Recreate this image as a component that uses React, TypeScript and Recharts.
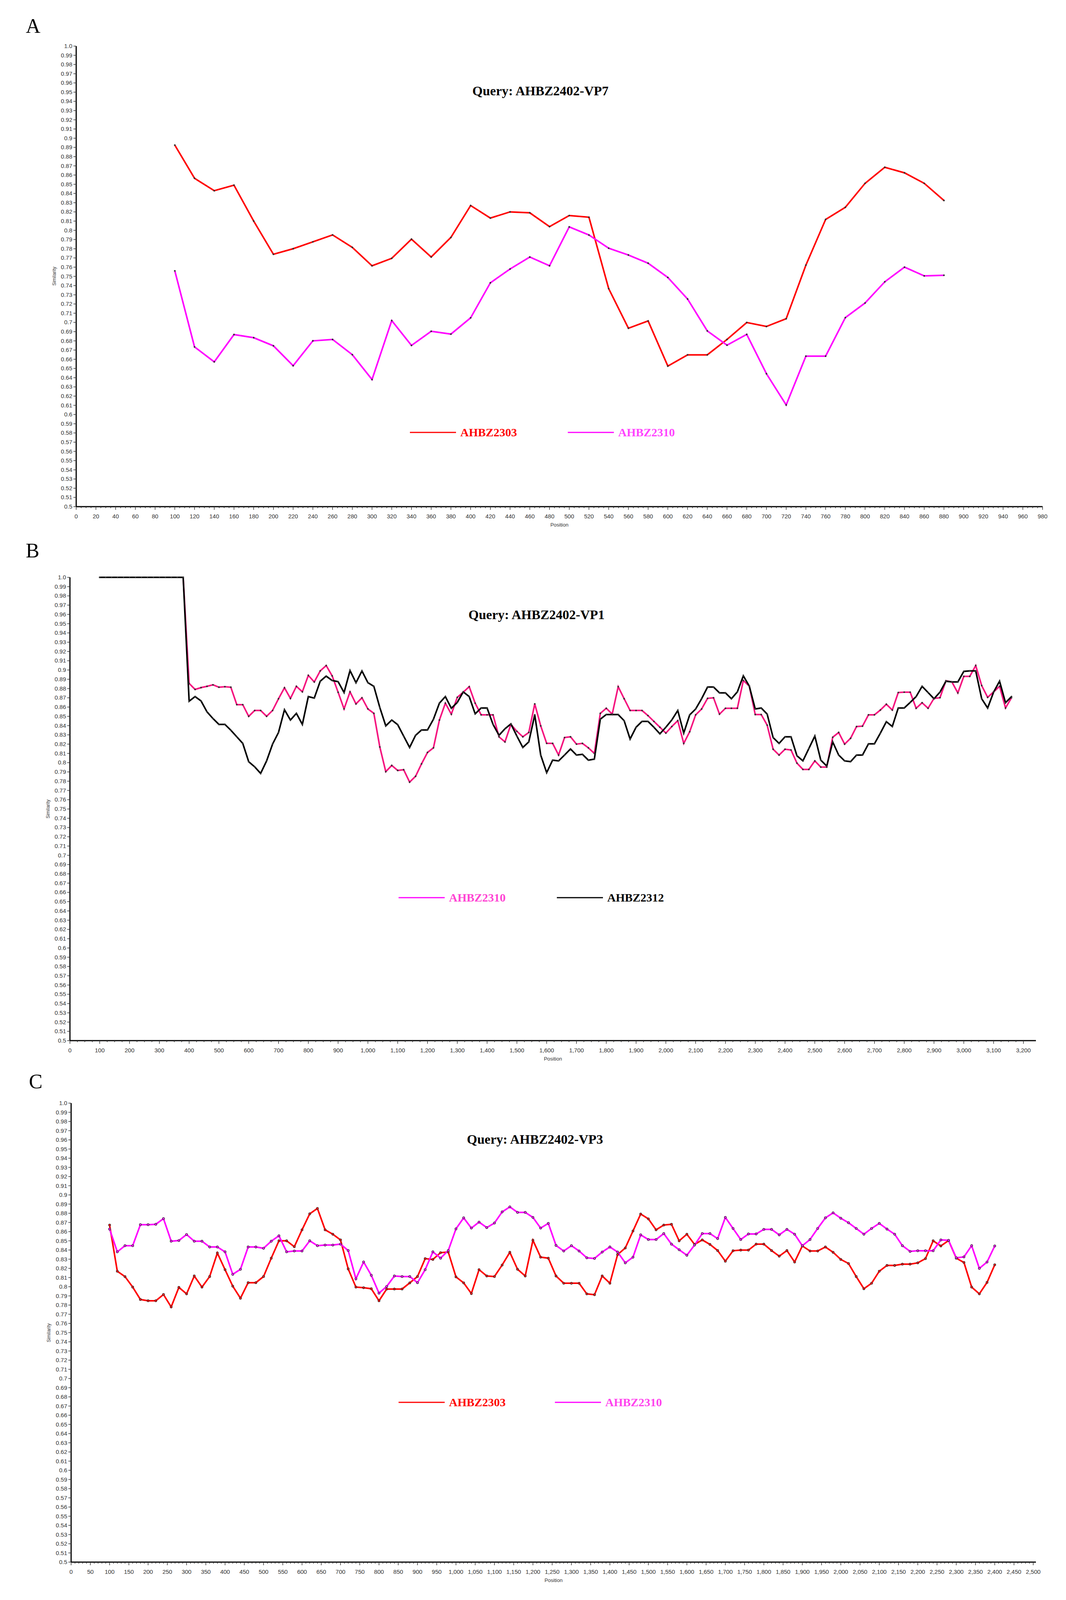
import React from "react";
import { LineChart, Line, XAxis, YAxis } from "recharts";

// sampling grid helper (window step of the similarity scan)
const range = (start: number, end: number, step: number) => {
  const out: number[] = [];
  for (let v = start; v <= end + 1e-9; v += step) out.push(v);
  return out;
};

// ---------- A: Query AHBZ2402-VP7 ----------
const vp7Positions = range(100, 880, 20);
const vp7Ahbz2303 = [
  0.8925, 0.8565, 0.843, 0.849, 0.81, 0.774, 0.78, 0.7875, 0.795, 0.7815,
  0.7615, 0.7696, 0.7904, 0.771, 0.7923, 0.8269, 0.8133, 0.82, 0.819, 0.804,
  0.816, 0.8142, 0.7367, 0.6937, 0.7016, 0.6526, 0.6648, 0.6648, 0.6815, 0.6999,
  0.6956, 0.704, 0.7622, 0.8118, 0.825, 0.851, 0.8684, 0.8624, 0.851, 0.8324,
];
const vp7Ahbz2310 = [
  0.756, 0.6734, 0.6572, 0.6868, 0.6834, 0.6746, 0.653, 0.68, 0.6815, 0.665,
  0.638, 0.702, 0.675, 0.6904, 0.6873, 0.705, 0.743, 0.758, 0.771, 0.7615,
  0.8037, 0.7949, 0.7806, 0.7732, 0.7643, 0.7488, 0.7254, 0.6908, 0.6753, 0.687,
  0.6443, 0.6104, 0.6634, 0.6634, 0.7052, 0.7211, 0.7441, 0.76, 0.7505, 0.7512,
];

// ---------- B: Query AHBZ2402-VP1 ----------
const vp1Positions = range(100, 3160, 20);
const vp1Ahbz2310 = [
  1, 1, 1, 1, 1, 1, 1, 1, 1, 1, 1, 1, 1, 1, 1,
  0.8855, 0.879, 0.881, 0.8824, 0.884, 0.8814, 0.882, 0.8814, 0.8626, 0.8626,
  0.85, 0.8563, 0.8563, 0.85, 0.8563, 0.869, 0.8808, 0.8693, 0.8824, 0.8765,
  0.8942, 0.8871, 0.899, 0.9048, 0.8937, 0.876, 0.858, 0.8764, 0.8634, 0.87,
  0.858, 0.8532, 0.8169, 0.7903, 0.797, 0.7916, 0.7924, 0.779, 0.7853, 0.7987,
  0.811, 0.816, 0.846, 0.8642, 0.8523, 0.8705, 0.876, 0.882, 0.8642, 0.8516,
  0.8516, 0.8516, 0.8279, 0.8224, 0.8413, 0.8338, 0.8279, 0.8326, 0.8634, 0.8397,
  0.8208, 0.8208, 0.8082, 0.8271, 0.8279, 0.82, 0.8208, 0.816, 0.81, 0.8532,
  0.8587, 0.8524, 0.882, 0.869, 0.8563, 0.8563, 0.8563, 0.8508, 0.8445, 0.8382,
  0.8319, 0.839, 0.8453, 0.8208, 0.8334, 0.8516, 0.8579, 0.8694, 0.87, 0.8524,
  0.8587, 0.8587, 0.8587, 0.8887, 0.8827, 0.8519, 0.8519, 0.8405, 0.8145, 0.8082,
  0.8145, 0.8137, 0.7995, 0.7927, 0.7927, 0.8019, 0.7952, 0.7952, 0.8274, 0.8326,
  0.82, 0.8263, 0.839, 0.8394, 0.8516, 0.8516, 0.8568, 0.8631, 0.8568, 0.8757,
  0.8761, 0.8761, 0.8587, 0.8647, 0.8587, 0.8694, 0.8701, 0.8884, 0.8871, 0.8753,
  0.8931, 0.8931, 0.9048, 0.8832, 0.8705, 0.8764, 0.8824, 0.859, 0.8701,
];
const vp1Ahbz2312 = [
  1, 1, 1, 1, 1, 1, 1, 1, 1, 1, 1, 1, 1, 1, 1,
  0.8663, 0.8713, 0.8666, 0.8548, 0.8476, 0.8413, 0.8413, 0.835, 0.8279, 0.8208,
  0.801, 0.7955, 0.7884, 0.8019, 0.82, 0.8326, 0.8571, 0.846, 0.8532, 0.8413,
  0.8713, 0.8697, 0.8879, 0.8934, 0.8887, 0.8874, 0.8757, 0.8994, 0.8863, 0.899,
  0.8863, 0.8824, 0.8595, 0.8397, 0.846, 0.841, 0.8287, 0.8164, 0.8295, 0.8353,
  0.8353, 0.8469, 0.8642, 0.8713, 0.8587, 0.865, 0.8764, 0.8713, 0.8527, 0.859,
  0.859, 0.8413, 0.8295, 0.8366, 0.8418, 0.8287, 0.8164, 0.8224, 0.8516, 0.8082,
  0.7892, 0.8027, 0.8019, 0.8082, 0.8148, 0.8082, 0.809, 0.8027, 0.8038, 0.8469,
  0.8519, 0.8519, 0.8519, 0.8453, 0.8255, 0.8382, 0.8445, 0.8445, 0.8382, 0.8311,
  0.8382, 0.8461, 0.8563, 0.8319, 0.8516, 0.8579, 0.869, 0.8816, 0.8816, 0.8753,
  0.8753, 0.869, 0.8764, 0.8937, 0.8827, 0.8579, 0.859, 0.8524, 0.8271, 0.8208,
  0.8279, 0.8279, 0.8074, 0.8019, 0.8153, 0.8287, 0.8027, 0.7963, 0.8224, 0.8082,
  0.8019, 0.8011, 0.8082, 0.8082, 0.8203, 0.8203, 0.8319, 0.8442, 0.839, 0.859,
  0.859, 0.865, 0.8713, 0.8824, 0.8757, 0.869, 0.8761, 0.8879, 0.8871, 0.8871,
  0.8985, 0.899, 0.899, 0.869, 0.859, 0.8761, 0.8879, 0.8647, 0.8713,
];

// ---------- C: Query AHBZ2402-VP3 ----------
const vp3Positions = range(100, 2400, 20);
const vp3Ahbz2303 = [
  0.8672, 0.8169, 0.811, 0.7996, 0.7861, 0.7847, 0.7847, 0.7915, 0.778, 0.7993,
  0.7922, 0.8117, 0.7996, 0.8111, 0.8367, 0.8186, 0.8006, 0.7875, 0.8044, 0.8044,
  0.8111, 0.8311, 0.85, 0.85, 0.8436, 0.862, 0.8794, 0.8853, 0.862, 0.8572,
  0.851, 0.8194, 0.7996, 0.7989, 0.7978, 0.7847, 0.7975, 0.7975, 0.7975, 0.8042,
  0.8111, 0.8306, 0.8297, 0.8371, 0.8378, 0.8107, 0.8042, 0.7926, 0.8186, 0.8117,
  0.8111, 0.8236, 0.8375, 0.819, 0.8117, 0.8506, 0.8322, 0.8311, 0.8117, 0.8038,
  0.8038, 0.8038, 0.7922, 0.7913, 0.8117, 0.8038, 0.835, 0.8422, 0.8607, 0.8792,
  0.8739, 0.862, 0.8672, 0.868, 0.85, 0.8572, 0.8461, 0.851, 0.8461, 0.8394,
  0.8278, 0.8392, 0.8399, 0.8399, 0.8464, 0.8464, 0.8394, 0.8333, 0.8394, 0.8269,
  0.8444, 0.8389, 0.8389, 0.8433, 0.8375, 0.8297, 0.8253, 0.8111, 0.7978, 0.8038,
  0.8169, 0.8232, 0.8232, 0.8246, 0.8246, 0.826, 0.8306, 0.85, 0.8444, 0.8503,
  0.8311, 0.8264, 0.7996, 0.7922, 0.8047, 0.8239,
];
const vp3Ahbz2310 = [
  0.8628, 0.838, 0.8447, 0.8447, 0.8676, 0.8676, 0.868, 0.8742, 0.8496, 0.8503,
  0.8569, 0.8496, 0.8496, 0.8433, 0.8433, 0.838, 0.8135, 0.819, 0.8433, 0.8433,
  0.8419, 0.8496, 0.8555, 0.838, 0.8389, 0.8389, 0.85, 0.8447, 0.8454, 0.8454,
  0.8464, 0.8394, 0.8086, 0.827, 0.8125, 0.793, 0.8003, 0.8117, 0.8111, 0.8111,
  0.8044, 0.8186, 0.838, 0.8311, 0.8394, 0.863, 0.875, 0.8639, 0.8704, 0.8644,
  0.8694, 0.8815, 0.887, 0.881, 0.881, 0.8755, 0.8639, 0.869, 0.845, 0.8389,
  0.8447, 0.8389, 0.8315, 0.8308, 0.8378, 0.8433, 0.8378, 0.826, 0.8322, 0.8565,
  0.8514, 0.8514, 0.8579, 0.8464, 0.8403, 0.8343, 0.8454, 0.8579, 0.8579, 0.8524,
  0.8755, 0.8635, 0.8514, 0.8575, 0.8575, 0.8625, 0.8625, 0.8565, 0.8625, 0.8572,
  0.8447, 0.8514, 0.8635, 0.875, 0.8805, 0.8746, 0.8697, 0.8635, 0.8572, 0.8635,
  0.869, 0.8628, 0.8572, 0.8447, 0.8385, 0.8392, 0.8392, 0.8392, 0.851, 0.8506,
  0.8315, 0.8325, 0.8447, 0.82, 0.8269, 0.8444,
];

// axis ticks
const similarityTicks = range(50, 100, 1).map((v) => v / 100);
const vp7Ticks = range(0, 980, 5);
const vp1Ticks = range(0, 3200, 25);
const vp3Ticks = range(0, 2500, 10);

const vp7Data = vp7Positions.map((pos, i) => ({ pos, a: vp7Ahbz2303[i], b: vp7Ahbz2310[i] }));
const vp1Data = vp1Positions.map((pos, i) => ({ pos, a: vp1Ahbz2310[i], b: vp1Ahbz2312[i] }));
const vp3Data = vp3Positions.map((pos, i) => ({ pos, a: vp3Ahbz2303[i], b: vp3Ahbz2310[i] }));

const tickFont = "'Liberation Sans', Arial, sans-serif";
const serif = "'Liberation Serif', 'Times New Roman', serif";

// the visible page is a little shorter than the window, squeeze vertically
const VS = 4100 / 4187;
const sy = (v: number) => Math.round(v * VS);
const AXIS_H = 95;

const makeXTick = (major: number, thousands: boolean) => (props: any) => {
  const { x, y, payload } = props;
  const v = payload.value;
  const isMajor = Math.abs(v % major) < 1e-6;
  return (
    <g>
      <line x1={x} x2={x} y1={y} y2={y + (isMajor ? 8 : 4)} stroke="#333" strokeWidth={1.5} />
      {isMajor && (
        <text x={x} y={y + 30} textAnchor="middle" fontSize={15} fill="#333" fontFamily={tickFont}>
          {thousands ? v.toLocaleString("en-US") : v}
        </text>
      )}
    </g>
  );
};

const YTick = (props: any) => {
  const { x, y, payload } = props;
  const r = Math.round(payload.value * 100);
  const label = r % 10 === 0 ? (r / 100).toFixed(1) : (r / 100).toFixed(2);
  return (
    <g>
      <line x1={x - 7} x2={x} y1={y} y2={y} stroke="#333" strokeWidth={1.5} />
      <text x={x - 10} y={y + 5} textAnchor="end" fontSize={15} fill="#333" fontFamily={tickFont}>
        {label}
      </text>
    </g>
  );
};

type Series = { key: string; color: string; dot: any };

function Panel(props: {
  chartTop: number;
  plotTop: number;
  plotBottom: number;
  marginRight: number;
  yWidth: number;
  xMax: number;
  xTicks: number[];
  major: number;
  thousands: boolean;
  data: any[];
  series: Series[];
}) {
  const { chartTop, plotTop, plotBottom, marginRight, yWidth, xMax, xTicks, major, thousands, data, series } = props;
  const top = sy(chartTop);
  const marginTop = sy(plotTop) - top;
  const height = sy(plotBottom) - top + AXIS_H;
  return (
    <div style={{ position: "absolute", left: 0, top, width: 2728, height }}>
      <LineChart
        width={2728}
        height={height}
        data={data}
        margin={{ top: marginTop, right: marginRight, left: 0, bottom: 0 }}
      >
        <XAxis
          dataKey="pos"
          type="number"
          domain={[0, xMax]}
          ticks={xTicks}
          interval={0}
          height={AXIS_H}
          tickSize={0}
          tickMargin={0}
          tickLine={false}
          tick={makeXTick(major, thousands)}
          axisLine={{ stroke: "#000", strokeWidth: 3 }}
          label={{ value: "Position", position: "insideBottom", offset: 44, fontSize: 13, fill: "#333", fontFamily: tickFont }}
        />
        <XAxis
          xAxisId="top"
          orientation="top"
          dataKey="pos"
          type="number"
          domain={[0, xMax]}
          height={0}
          tick={false}
          tickLine={false}
          axisLine={{ stroke: "#8a8a8a", strokeWidth: 3 }}
        />
        <YAxis
          type="number"
          domain={[0.5, 1]}
          ticks={similarityTicks}
          interval={0}
          width={yWidth}
          tickSize={0}
          tickMargin={0}
          tickLine={false}
          tick={YTick}
          axisLine={{ stroke: "#000", strokeWidth: 3 }}
        />
        <YAxis
          yAxisId="right"
          orientation="right"
          type="number"
          domain={[0.5, 1]}
          width={0}
          tick={false}
          tickLine={false}
          axisLine={{ stroke: "#666", strokeWidth: 2 }}
        />
        {series.map((s) => (
          <Line
            key={s.key}
            type="linear"
            dataKey={s.key}
            stroke={s.color}
            strokeWidth={4}
            dot={s.dot}
            activeDot={false}
            isAnimationActive={false}
          />
        ))}
      </LineChart>
    </div>
  );
}

const smallDot = { r: 2.2, fill: "#333", stroke: "none" };

function LegendItem({ x, y, lineColor, textColor, name }: any) {
  return (
    <g>
      <line x1={x} x2={x + 118} y1={sy(y)} y2={sy(y)} stroke={lineColor} strokeWidth={3} />
      <text x={x + 129} y={sy(y) + 10} fontSize={30} fontWeight="bold" fill={textColor} fontFamily={serif}>
        {name}
      </text>
    </g>
  );
}

export default function App() {
  return (
    <div style={{ position: "absolute", left: 0, top: 0, width: 2728, height: sy(4187), background: "#fff" }}>
      <Panel
        chartTop={0}
        plotTop={120}
        plotBottom={1325}
        marginRight={60}
        yWidth={195}
        xMax={980}
        xTicks={vp7Ticks}
        major={20}
        thousands={false}
        data={vp7Data}
        series={[
          { key: "a", color: "#ff0000", dot: smallDot },
          { key: "b", color: "#ff00ff", dot: smallDot },
        ]}
      />
      <Panel
        chartTop={1400}
        plotTop={1509}
        plotBottom={2721}
        marginRight={77}
        yWidth={179}
        xMax={3242}
        xTicks={vp1Ticks}
        major={100}
        thousands={true}
        data={vp1Data}
        series={[
          { key: "a", color: "#f5157f", dot: smallDot },
          { key: "b", color: "#000000", dot: smallDot },
        ]}
      />
      <Panel
        chartTop={2780}
        plotTop={2884}
        plotBottom={4084}
        marginRight={77}
        yWidth={182}
        xMax={2507}
        xTicks={vp3Ticks}
        major={50}
        thousands={true}
        data={vp3Data}
        series={[
          { key: "a", color: "#ff0000", dot: { r: 2.8, fill: "#ff0000", stroke: "#333", strokeWidth: 1.2 } },
          { key: "b", color: "#ff00ff", dot: { r: 2.8, fill: "#ff00ff", stroke: "#333", strokeWidth: 1.2 } },
        ]}
      />
      <svg
        width={2728}
        height={sy(4187)}
        style={{ position: "absolute", left: 0, top: 0, pointerEvents: "none" }}
      >
        <g fontFamily={serif} fill="#000">
          <text x={66} y={sy(86)} fontSize={52}>A</text>
          <text x={66} y={sy(1457)} fontSize={52}>B</text>
          <text x={74} y={sy(2845)} fontSize={52}>C</text>
          <text x={1383} y={sy(249)} fontSize={34} fontWeight="bold" textAnchor="middle">Query: AHBZ2402-VP7</text>
          <text x={1373} y={sy(1619)} fontSize={34} fontWeight="bold" textAnchor="middle">Query: AHBZ2402-VP1</text>
          <text x={1369} y={sy(2990)} fontSize={34} fontWeight="bold" textAnchor="middle">Query: AHBZ2402-VP3</text>
        </g>
        <g fontFamily={tickFont} fontSize={12} fill="#333">
          <text transform={`translate(143,${sy(722)}) rotate(-90)`} textAnchor="middle">Similarity</text>
          <text transform={`translate(127,${sy(2115)}) rotate(-90)`} textAnchor="middle">Similarity</text>
          <text transform={`translate(129,${sy(3484)}) rotate(-90)`} textAnchor="middle">Similarity</text>
        </g>
        <LegendItem x={1049} y={1131} lineColor="#ff0000" textColor="#ff0000" name="AHBZ2303" />
        <LegendItem x={1453} y={1131} lineColor="#ff00ff" textColor="#ff44ff" name="AHBZ2310" />
        <LegendItem x={1020} y={2347} lineColor="#ff00ff" textColor="#ff44d4" name="AHBZ2310" />
        <LegendItem x={1425} y={2347} lineColor="#000000" textColor="#000000" name="AHBZ2312" />
        <LegendItem x={1020} y={3666} lineColor="#ff0000" textColor="#ff0000" name="AHBZ2303" />
        <LegendItem x={1420} y={3666} lineColor="#ff00ff" textColor="#ff44ee" name="AHBZ2310" />
      </svg>
    </div>
  );
}
